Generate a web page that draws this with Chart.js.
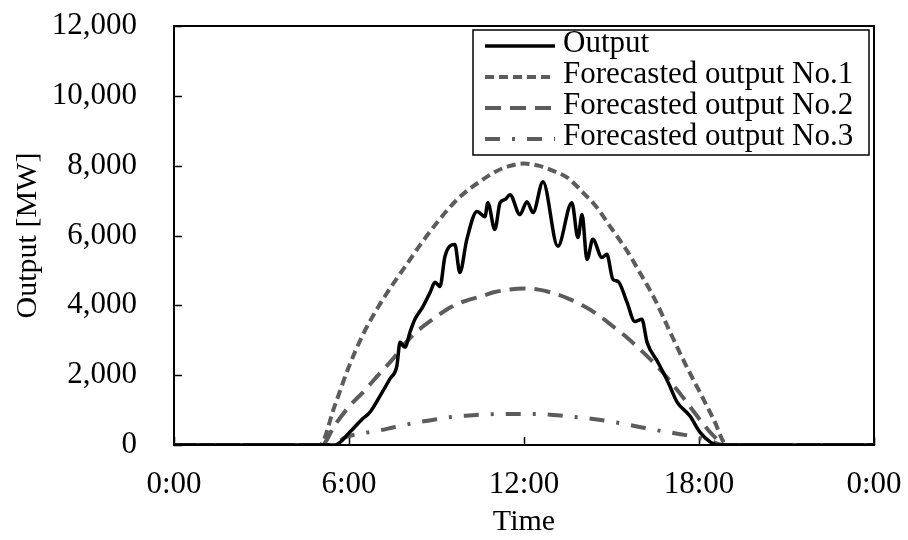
<!DOCTYPE html>
<html>
<head>
<meta charset="utf-8">
<script src="https://cdn.jsdelivr.net/npm/chart.js@4.4.0/dist/chart.umd.min.js"></script>
<style>
  body { margin: 0; background: #fff; }
</style>
</head>
<body>
<canvas id="myChart" width="908" height="540"></canvas>
<script>
// values (hours since 0:00, MW)
var outputHours = [0, 5.52, 6.03, 6.45, 6.72, 7.06, 7.40, 7.64, 7.75, 7.92, 8.09, 8.26, 8.54, 8.78, 8.95, 9.12, 9.29, 9.63, 9.80, 10.04,
  10.39, 10.66, 10.76, 11.00, 11.18, 11.35, 11.52, 11.86, 12.10, 12.31, 12.65, 13.16, 13.64, 13.85, 13.99, 14.16, 14.36, 14.67, 14.84,
  15.05, 15.22, 15.53, 15.80, 16.04, 16.22, 16.59, 16.94, 17.25, 17.69, 18.03, 18.38, 18.62, 24];
var outputValues = [0, 0, 370, 740, 940, 1400, 1890, 2260, 2940, 2800, 3230, 3600, 3970, 4370, 4660, 4540, 5400, 5740, 4940, 5890,
  6690, 6540, 6940, 6170, 6940, 7030, 7170, 6600, 6970, 6660, 7540, 5690, 6940, 5940, 6600, 5310, 5890, 5370, 5460,
  4740, 4690, 4090, 3540, 3600, 2940, 2370, 1800, 1230, 830, 370, 90, 0, 0];

var fc1Hours = [0, 5.0, 5.5, 6.0, 6.5, 7.0, 7.5, 8.0, 8.5, 9.0, 9.5, 10.0, 10.5, 11.0, 11.5, 12.0, 12.5, 13.0, 13.5, 14.0,
  14.5, 15.0, 15.5, 16.0, 16.5, 17.0, 17.5, 18.0, 18.5, 18.96, 24];
var fc1Values = [0, 0, 1100, 2250, 3200, 3950, 4600, 5200, 5800, 6350, 6850, 7250, 7550, 7820, 7990, 8060, 8000, 7850, 7650, 7250,
  6800, 6200, 5600, 4900, 4150, 3250, 2370, 1560, 740, 0, 0];

var fc2Hours = [0, 5.07, 5.5, 6.0, 6.5, 7.0, 7.5, 8.0, 8.5, 9.0, 9.5, 10.0, 10.5, 11.0, 11.5, 12.0, 12.5, 13.0, 13.5, 14.0,
  14.5, 15.0, 15.5, 16.0, 16.5, 17.0, 17.5, 18.0, 18.5, 18.9, 24];
var fc2Values = [0, 0, 550, 1100, 1530, 2000, 2460, 2980, 3370, 3680, 3950, 4130, 4250, 4380, 4450, 4480, 4450, 4350, 4200, 4000,
  3750, 3430, 3100, 2720, 2310, 1840, 1310, 760, 260, 0, 0];

var fc3Hours = [0, 5.4, 5.9, 6.5, 7.0, 7.5, 8.0, 8.5, 9.0, 9.5, 10.0, 10.5, 11.0, 11.5, 12.0, 12.5, 13.0, 13.5, 14.0,
  14.5, 15.0, 15.5, 16.0, 16.5, 17.0, 17.5, 18.0, 18.5, 18.8, 24];
var fc3Values = [0, 0, 230, 340, 410, 500, 590, 670, 740, 800, 840, 870, 885, 890, 890, 885, 860, 820, 780,
  730, 670, 590, 510, 430, 360, 290, 200, 80, 0, 0];

var xTicks = [0, 6, 12, 18, 24];
var yTicks = [0, 2000, 4000, 6000, 8000, 10000, 12000];
var seriesNames = ['Output', 'Forecasted output No.1', 'Forecasted output No.2', 'Forecasted output No.3'];

function pts(hours, values) {
  return hours.map(function (h, i) { return { x: h, y: values[i] }; });
}

var font = 'Liberation Serif, Times New Roman, serif';
var gray = '#5c5c5c';

// no extra room for edge labels, the layout padding decides the plot box
function noPad(s) {
  s.paddingTop = 0; s.paddingBottom = 0; s.paddingLeft = 0; s.paddingRight = 0;
}

// frame, inward tick marks and legend box
const framePlugin = {
  id: 'framePlugin',
  beforeDatasetsDraw(chart) {
    const ctx = chart.ctx, a = chart.chartArea, sx = chart.scales.x, sy = chart.scales.y;
    ctx.save();
    ctx.strokeStyle = '#000';
    ctx.lineWidth = 1.5;
    ctx.beginPath();
    yTicks.forEach(function (v) {
      var y = Math.round(sy.getPixelForValue(v)) + 0.5;
      ctx.moveTo(a.left, y); ctx.lineTo(a.left + 8, y);
    });
    xTicks.forEach(function (v) {
      var x = Math.round(sx.getPixelForValue(v)) + 0.5;
      ctx.moveTo(x, a.bottom); ctx.lineTo(x, a.bottom - 8);
    });
    ctx.stroke();
    ctx.lineWidth = 2;
    ctx.strokeRect(a.left, a.top, a.right - a.left, a.bottom - a.top);
    ctx.restore();
  },
  afterDraw(chart) {
    const ctx = chart.ctx, a = chart.chartArea;
    const bx = a.right - 401, by = a.top + 4, bw = 396, bh = 125;
    ctx.save();
    ctx.fillStyle = '#fff';
    ctx.fillRect(bx, by, bw, bh);
    ctx.strokeStyle = '#000';
    ctx.lineWidth = 1.5;
    ctx.strokeRect(bx, by, bw, bh);
    ctx.font = '31px ' + font;
    ctx.textBaseline = 'middle';
    chart.data.datasets.forEach(function (ds, i) {
      var y = by + 16 + i * 31;
      ctx.strokeStyle = ds.borderColor;
      ctx.lineWidth = ds.borderWidth;
      ctx.setLineDash(ds.borderDash || []);
      ctx.beginPath();
      ctx.moveTo(bx + 12, y);
      ctx.lineTo(bx + 82, y);
      ctx.stroke();
      ctx.setLineDash([]);
      ctx.fillStyle = '#000';
      ctx.fillText(ds.label, bx + 90, y - 2);
    });
    ctx.restore();
  }
};

const data = {
  datasets: [
    { label: seriesNames[0], data: pts(outputHours, outputValues), borderColor: '#000', borderWidth: 3.5 },
    { label: seriesNames[1], data: pts(fc1Hours, fc1Values), borderColor: gray, borderWidth: 4, borderDash: [9, 5] },
    { label: seriesNames[2], data: pts(fc2Hours, fc2Values), borderColor: gray, borderWidth: 4, borderDash: [16, 9] },
    { label: seriesNames[3], data: pts(fc3Hours, fc3Values), borderColor: gray, borderWidth: 4, borderDash: [15, 12, 3, 12] }
  ]
};

const config = {
  type: 'line',
  data: data,
  options: {
    responsive: false,
    animation: false,
    devicePixelRatio: 1,
    layout: { padding: { top: 26, right: 34, left: 0, bottom: 0 } },
    elements: {
      point: { radius: 0 },
      line: { cubicInterpolationMode: 'monotone', fill: false }
    },
    plugins: {
      legend: { display: false },
      tooltip: { enabled: false }
    },
    scales: {
      x: {
        type: 'linear',
        min: 0, max: 24,
        afterFit: function (s) { s.height = 95; noPad(s); },
        afterBuildTicks: function (s) { s.ticks = xTicks.map(function (v) { return { value: v }; }); },
        grid: { display: false, drawTicks: false },
        border: { display: false },
        ticks: {
          padding: 21,
          color: '#000',
          font: { family: font, size: 31 },
          maxRotation: 0,
          callback: function (v) { return (v % 24) + ':00'; }
        },
        title: {
          display: true, text: 'Time', color: '#000',
          font: { family: font, size: 30 },
          padding: { top: 0, bottom: 0 }
        }
      },
      y: {
        min: 0, max: 12000,
        afterFit: function (s) { s.width = 174; noPad(s); },
        afterBuildTicks: function (s) { s.ticks = yTicks.map(function (v) { return { value: v }; }); },
        grid: { display: false, drawTicks: false },
        border: { display: false },
        ticks: {
          padding: 37,
          color: '#000',
          font: { family: font, size: 31 },
          callback: function (v) { return v.toLocaleString('en-US'); }
        },
        title: {
          display: true, text: 'Output [MW]', color: '#000',
          font: { family: font, size: 30 },
          padding: { top: 10, bottom: 0 }
        }
      }
    }
  },
  plugins: [framePlugin]
};

const myChart = new Chart(document.getElementById('myChart'), config);
</script>
</body>
</html>
